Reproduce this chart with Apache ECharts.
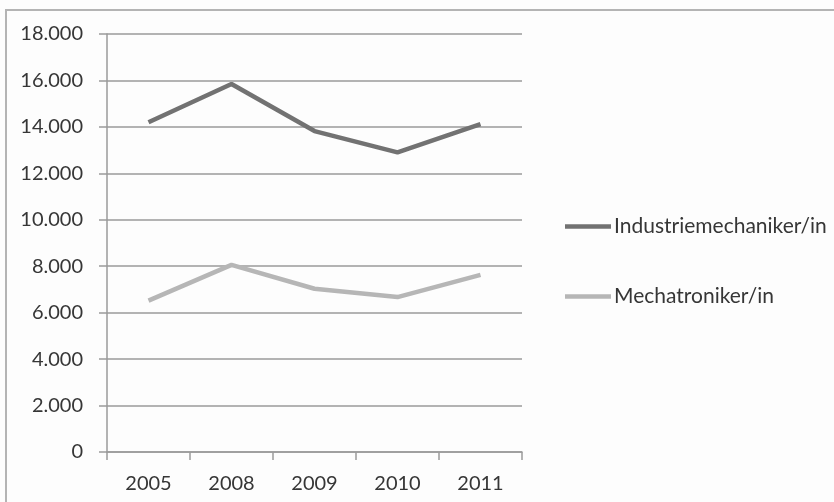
<!DOCTYPE html>
<html>
<head>
<meta charset="utf-8">
<script src="https://cdn.jsdelivr.net/npm/echarts@6/dist/echarts.min.js"></script>
<style>
  html, body { margin: 0; padding: 0; background: #fdfdfd; }
  #chart { width: 834px; height: 502px; }
</style>
</head>
<body>
<div id="chart"></div>
<script>
// Ausbildungsjahre
const years = ['2005', '2008', '2009', '2010', '2011'];
// Anzahl Auszubildende je Beruf
const industriemechaniker = [14200, 15850, 13820, 12900, 14120];
const mechatroniker = [6520, 8060, 7030, 6670, 7630];
const seriesNames = ['Industriemechaniker/in', 'Mechatroniker/in'];

// Tausendertrennzeichen im deutschen Format
function fmt(v) {
  return String(v).replace(/\B(?=(\d{3})+(?!\d))/g, '.');
}

const chart = echarts.init(document.getElementById('chart'));
const fontFamily = 'Lato, "Open Sans", sans-serif';
const axisGray = '#9a9a9a';
const textColor = '#363636';

chart.setOption({
  backgroundColor: '#fdfdfd',
  animation: false,
  textStyle: { fontFamily: fontFamily },
  graphic: [{
    type: 'rect',
    shape: { x: 6, y: 10, width: 840, height: 500 },
    style: { fill: 'none', stroke: '#b4b4b4', lineWidth: 2 },
    silent: true
  }],
  grid: { left: 107, right: 312, top: 34, bottom: 50, containLabel: false },
  legend: {
    orient: 'vertical',
    left: 560,
    top: 211,
    itemGap: 49,
    itemWidth: 46,
    itemHeight: 21,
    icon: 'path://M0,8 L46,8 L46,12.5 L0,12.5 Z',
    textStyle: { fontSize: 21, lineHeight: 21, color: textColor, fontFamily: fontFamily, padding: [0, 0, 0, -2] },
    data: seriesNames
  },
  xAxis: {
    type: 'category',
    data: years,
    boundaryGap: true,
    axisLine: { lineStyle: { color: axisGray, width: 1.5 } },
    axisTick: { show: true, length: 8, alignWithLabel: false, lineStyle: { color: axisGray, width: 1.5 } },
    axisLabel: { fontSize: 20, color: textColor, margin: 22 }
  },
  yAxis: {
    type: 'value',
    min: 0,
    max: 18000,
    interval: 2000,
    axisLine: { show: true, lineStyle: { color: axisGray, width: 1.5 } },
    axisTick: { show: true, length: 8, lineStyle: { color: axisGray, width: 1.5 } },
    splitLine: { lineStyle: { color: axisGray, width: 1.5 } },
    axisLabel: { fontSize: 20, color: textColor, margin: 24, formatter: fmt }
  },
  series: [
    {
      name: seriesNames[0],
      type: 'line',
      data: industriemechaniker,
      symbol: 'none',
      lineStyle: { color: '#727272', width: 4.5 },
      itemStyle: { color: '#727272' }
    },
    {
      name: seriesNames[1],
      type: 'line',
      data: mechatroniker,
      symbol: 'none',
      lineStyle: { color: '#b6b6b6', width: 4.5 },
      itemStyle: { color: '#b6b6b6' }
    }
  ]
});
</script>
</body>
</html>
